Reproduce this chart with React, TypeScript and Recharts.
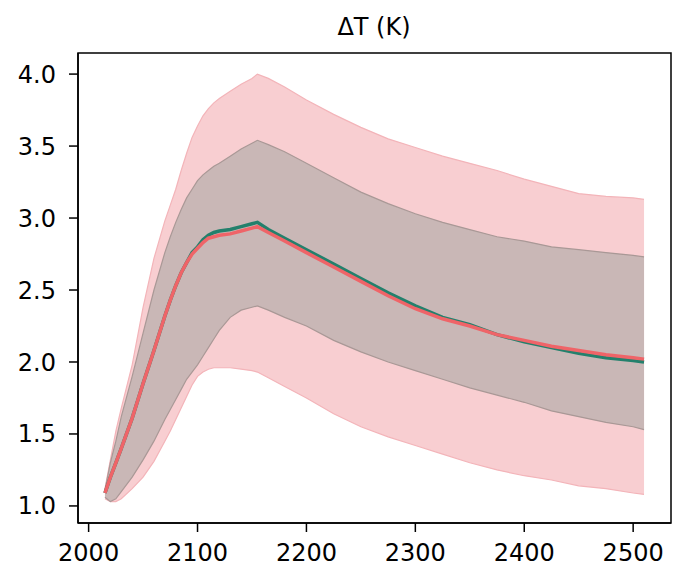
import React from 'react';
import { ComposedChart, Area, Line, XAxis, YAxis, ReferenceArea } from 'recharts';

// years sampled along the curves
const years = [
    2015, 2020, 2025, 2030, 2040, 2050, 2060, 2070, 2075, 2080, 2085, 2090, 2095, 2100, 2105, 2110,
    2115, 2120, 2130, 2140, 2150, 2155, 2165, 2180, 2200, 2225, 2250, 2275, 2300, 2325, 2350, 2375,
    2400, 2425, 2450, 2475, 2500, 2510,
];

const meanTeal = [
    1.09, 1.2, 1.3, 1.4, 1.61, 1.85, 2.08, 2.32, 2.43, 2.53, 2.62, 2.69, 2.76, 2.8, 2.85, 2.88,
    2.9, 2.91, 2.92, 2.94, 2.96, 2.97, 2.92, 2.86, 2.78, 2.68, 2.58, 2.48, 2.39, 2.31, 2.26, 2.19,
    2.14, 2.1, 2.06, 2.03, 2.01, 2.0,
];

const meanRed = [
    1.09, 1.2, 1.3, 1.4, 1.61, 1.85, 2.08, 2.32, 2.43, 2.53, 2.62, 2.69, 2.75, 2.79, 2.83, 2.86,
    2.87, 2.88, 2.89, 2.91, 2.93, 2.94, 2.9, 2.84, 2.76, 2.66, 2.56, 2.46, 2.37, 2.3, 2.25, 2.19,
    2.15, 2.11, 2.08, 2.05, 2.03, 2.02,
];

const innerLow = [
    1.06, 1.03, 1.05, 1.1, 1.2, 1.32, 1.45, 1.6, 1.67, 1.74, 1.81, 1.88, 1.93, 1.98, 2.04, 2.1,
    2.16, 2.22, 2.31, 2.36, 2.38, 2.39, 2.36, 2.31, 2.25, 2.15, 2.07, 2.0, 1.94, 1.88, 1.82, 1.77,
    1.72, 1.66, 1.62, 1.58, 1.55, 1.53,
];

const innerHigh = [
    1.11, 1.3, 1.45, 1.62, 1.9, 2.2, 2.5, 2.76, 2.87, 2.97, 3.06, 3.14, 3.2, 3.26, 3.3, 3.33,
    3.36, 3.38, 3.43, 3.48, 3.52, 3.54, 3.51, 3.46, 3.38, 3.28, 3.18, 3.1, 3.03, 2.97, 2.92, 2.87,
    2.84, 2.8, 2.78, 2.76, 2.74, 2.73,
];

const outerLow = [
    1.05, 1.03, 1.03, 1.05, 1.12, 1.2, 1.31, 1.45, 1.52, 1.6, 1.68, 1.76, 1.84, 1.9, 1.93, 1.95,
    1.96, 1.96, 1.96, 1.95, 1.94, 1.93, 1.89, 1.83, 1.75, 1.64, 1.55, 1.48, 1.42, 1.36, 1.3, 1.25,
    1.21, 1.18, 1.14, 1.12, 1.09, 1.08,
];

const outerHigh = [
    1.12, 1.32, 1.52, 1.68, 1.98, 2.38, 2.72, 2.98, 3.09, 3.2, 3.33, 3.45, 3.56, 3.64, 3.71, 3.76,
    3.8, 3.83, 3.88, 3.93, 3.97, 4.0, 3.97, 3.91, 3.82, 3.72, 3.63, 3.55, 3.49, 3.43, 3.38, 3.33,
    3.27, 3.22, 3.17, 3.15, 3.14, 3.13,
];

const xTicks = [2000, 2100, 2200, 2300, 2400, 2500];
const yTicks = [1.0, 1.5, 2.0, 2.5, 3.0, 3.5, 4.0];

const rows = years.map((year, i) => ({
    year,
    teal: meanTeal[i],
    red: meanRed[i],
    inner: [innerLow[i], innerHigh[i]],
    outer: [outerLow[i], outerHigh[i]],
}));

const FONT = '"DejaVu Sans", sans-serif';
const xDomain = [1990.25, 2534.75];
const yDomain = [0.8815, 4.1465];
const tickStyle = { fill: '#000', fontSize: 24, fontFamily: FONT };

export default function App() {
    return (
        <div style={{ position: 'absolute', left: 0, top: 0, width: 680, height: 577, background: '#fff' }}>
            <svg width={680} height={50} style={{ position: 'absolute', left: 0, top: 0 }}>
                <text x={374} y={35} textAnchor="middle" fontFamily={FONT} fontSize={24} fill="#000">
                    ΔT (K)
                </text>
            </svg>
            <ComposedChart
                width={680}
                height={577}
                data={rows}
                margin={{ top: 53, right: 9, bottom: 24, left: 0 }}
            >
                <XAxis
                    dataKey="year"
                    type="number"
                    domain={xDomain}
                    ticks={xTicks}
                    allowDataOverflow
                    height={30}
                    tick={tickStyle}
                    tickSize={9}
                    tickMargin={12}
                    stroke="#000"
                    strokeWidth={1.5}
                />
                <YAxis
                    type="number"
                    domain={yDomain}
                    ticks={yTicks}
                    allowDataOverflow
                    width={78}
                    tick={tickStyle}
                    tickFormatter={(v: number) => v.toFixed(1)}
                    tickSize={9}
                    tickMargin={13}
                    stroke="#000"
                    strokeWidth={1.5}
                />
                <Area
                    dataKey="outer"
                    type="linear"
                    fill="#f8ced1"
                    fillOpacity={1}
                    stroke="#f3b4b9"
                    strokeWidth={1.2}
                    dot={false}
                    activeDot={false}
                    isAnimationActive={false}
                />
                <Area
                    dataKey="inner"
                    type="linear"
                    fill="#c9b7b6"
                    fillOpacity={1}
                    stroke="#a99896"
                    strokeWidth={1.2}
                    dot={false}
                    activeDot={false}
                    isAnimationActive={false}
                />
                <Line
                    dataKey="teal"
                    type="linear"
                    stroke="#23806c"
                    strokeWidth={3.5}
                    dot={false}
                    activeDot={false}
                    isAnimationActive={false}
                />
                <Line
                    dataKey="red"
                    type="linear"
                    stroke="#ef6468"
                    strokeWidth={3.5}
                    dot={false}
                    activeDot={false}
                    isAnimationActive={false}
                />
                {/* frame around the plot area */}
                <ReferenceArea
                    x1={xDomain[0]}
                    x2={xDomain[1]}
                    y1={yDomain[0]}
                    y2={yDomain[1]}
                    fill="none"
                    stroke="#000"
                    strokeWidth={1.5}
                    ifOverflow="visible"
                />
            </ComposedChart>
        </div>
    );
}
